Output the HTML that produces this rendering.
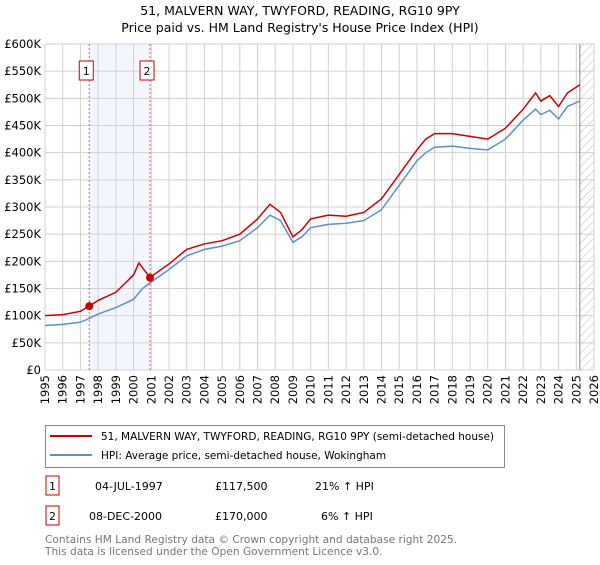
<!DOCTYPE html>
<html><head><meta charset="utf-8"><style>
body{margin:0;background:#fff;font-family:"Liberation Sans","DejaVu Sans",sans-serif;}
svg text{font-family:"DejaVu Sans","Liberation Sans",sans-serif;}
</style></head><body>
<svg id="chart" width="600" height="560" xmlns="http://www.w3.org/2000/svg">
<text x="300" y="15" text-anchor="middle" font-size="12.5">51, MALVERN WAY, TWYFORD, READING, RG10 9PY</text>
<text x="300" y="32" text-anchor="middle" font-size="12.5">Price paid vs. HM Land Registry's House Price Index (HPI)</text>
<defs><pattern id="hatch" width="6" height="6" patternUnits="userSpaceOnUse" patternTransform="rotate(45)"><line x1="0" y1="0" x2="0" y2="6" stroke="#bbb" stroke-width="1"/></pattern></defs>
<g id="grid"></g><g id="marks"></g><g id="axes"></g>
<rect x="45.5" y="425.5" width="459" height="42" fill="#fff" stroke="#888"/>
<line x1="50" y1="436" x2="92" y2="436" stroke="#cc0000" stroke-width="2"/>
<text x="101" y="440" font-size="10.5">51, MALVERN WAY, TWYFORD, READING, RG10 9PY (semi-detached house)</text>
<line x1="50" y1="455" x2="92" y2="455" stroke="#5b8fd0" stroke-width="2"/>
<text x="101" y="459" font-size="10.5">HPI: Average price, semi-detached house, Wokingham</text>
<g font-size="11">
<rect x="46" y="476" width="13" height="19" fill="none" stroke="#cc0000"/>
<text x="52.5" y="490" text-anchor="middle">1</text>
<text x="95" y="490">04-JUL-1997</text>
<text x="215" y="490">£117,500</text>
<text x="315" y="490">21% ↑ HPI</text>
<rect x="46" y="506" width="13" height="19" fill="none" stroke="#cc0000"/>
<text x="52.5" y="520" text-anchor="middle">2</text>
<text x="89" y="520">08-DEC-2000</text>
<text x="215" y="520">£170,000</text>
<text x="321" y="520">6% ↑ HPI</text>
</g>
<text x="45" y="543" font-size="10.6" fill="#777">Contains HM Land Registry data © Crown copyright and database right 2025.</text>
<text x="45" y="555" font-size="10.6" fill="#777">This data is licensed under the Open Government Licence v3.0.</text>
</svg>
<script>
const hpiYears=[1995,1996,1997,1997.5,1998,1999,2000,2000.5,2001,2002,2003,2004,2005,2006,2007,2007.7,2008.3,2009,2009.5,2010,2011,2012,2013,2014,2015,2016,2016.5,2017,2018,2019,2020,2021,2022,2022.7,2023,2023.5,2024,2024.5,2025.2];
const hpiValues=[82,84,88,95,103,115,130,150,162,185,210,222,228,238,262,285,275,235,245,262,268,270,275,295,340,385,400,410,412,408,405,425,460,480,470,478,462,485,495];
const propYears=[1995,1996,1997,1997.5,1998,1999,2000,2000.3,2000.93,2001,2002,2003,2004,2005,2006,2007,2007.7,2008.3,2009,2009.5,2010,2011,2012,2013,2014,2015,2016,2016.5,2017,2018,2019,2020,2021,2022,2022.7,2023,2023.5,2024,2024.5,2025.2];
const propValues=[100,102,108,117.5,128,143,175,197,170,172,195,222,232,238,250,278,305,290,245,258,278,285,283,290,315,360,405,425,435,435,430,425,445,480,510,495,505,485,510,525];
const saleYears=[1997.5,2000.93];
const saleValues=[117.5,170];
const saleLabels=["1","2"];
const yTicks=[0,50,100,150,200,250,300,350,400,450,500,550,600];
const yTickLabels=["£0","£50K","£100K","£150K","£200K","£250K","£300K","£350K","£400K","£450K","£500K","£550K","£600K"];
const xTicks=[];for(let y=1995;y<=2026;y++)xTicks.push(y);
const L=45,R=594,T=44,B=370,X0=1995,X1=2026,dataEnd=2025.2;
const xs=v=>L+(v-X0)/(X1-X0)*(R-L);
const ys=v=>B-v/600*(B-T);
const NS="http://www.w3.org/2000/svg";
function mk(p,tag,a){const e=document.createElementNS(NS,tag);for(const k in a)e.setAttribute(k,a[k]);p.appendChild(e);return e;}
const grid=document.getElementById('grid'),marks=document.getElementById('marks'),axes=document.getElementById('axes');
const band=mk(grid,'rect',{x:xs(saleYears[0]),y:T,width:xs(saleYears[1])-xs(saleYears[0]),height:B-T,fill:'#eef2fc',opacity:0.7});


const hat=mk(grid,'rect',{x:xs(dataEnd),y:T,width:R-xs(dataEnd),height:B-T,fill:'url(#hatch)'});


yTicks.forEach((t,i)=>{
 const g=mk(grid,'line',{x1:L,x2:R,y1:ys(t),y2:ys(t),stroke:'#d0d0d0'});
 
 
 const tx=mk(axes,'text',{x:L-4,y:ys(t)+4,'text-anchor':'end','font-size':11.5});
 tx.textContent=yTickLabels[i];
 
 
});
xTicks.forEach(t=>{
 const g=mk(grid,'line',{x1:xs(t),x2:xs(t),y1:T,y2:B,stroke:'#d0d0d0'});
 
 
 const tx=mk(axes,'text',{x:0,y:0,'text-anchor':'end','font-size':11.5,transform:`translate(${xs(t)+4},${B+5}) rotate(-90)`});
 tx.textContent=t;
 
 
});
const endL=mk(grid,'line',{x1:xs(dataEnd),x2:xs(dataEnd),y1:T,y2:B,stroke:'#888'});


saleYears.forEach((s,i)=>{
 const l=mk(grid,'line',{x1:xs(s),x2:xs(s),y1:T,y2:B,stroke:'#e06070','stroke-dasharray':'2,2'});
 
 
 const r=mk(axes,'rect',{x:xs(s)-10,y:61,width:14,height:19,fill:'#fff',stroke:'#cc0000'});
 
 
 const tx=mk(axes,'text',{x:xs(s)-3,y:75,'text-anchor':'middle','font-size':11});
 tx.textContent=saleLabels[i];
 
 
});
const hp=mk(marks,'polyline',{points:hpiYears.map((y,i)=>xs(y)+','+ys(hpiValues[i])).join(' '),fill:'none',stroke:'#5b8fd0','stroke-width':1.5});


const pp=mk(marks,'polyline',{points:propYears.map((y,i)=>xs(y)+','+ys(propValues[i])).join(' '),fill:'none',stroke:'#cc0000','stroke-width':1.5});


saleYears.forEach((s,i)=>{
 const c=mk(marks,'circle',{cx:xs(s),cy:ys(saleValues[i]),r:4,fill:'#cc0000'});
 
 
});
</script>
</body></html>
